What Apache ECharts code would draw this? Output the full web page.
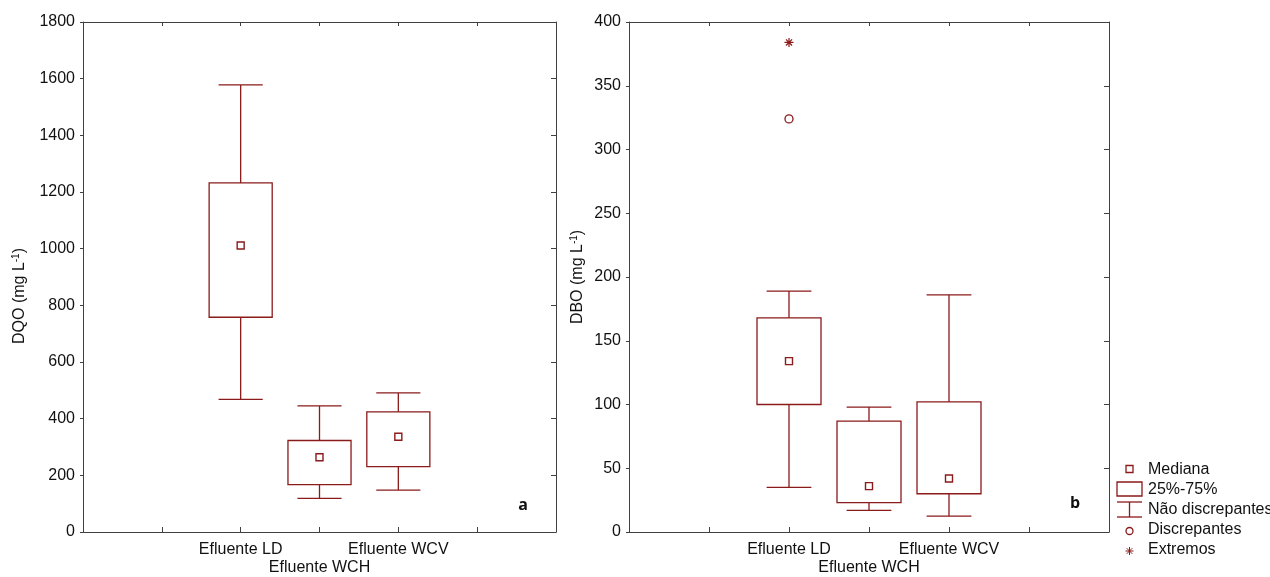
<!DOCTYPE html>
<html>
<head>
<meta charset="utf-8">
<script src="https://cdn.jsdelivr.net/npm/echarts@6/dist/echarts.min.js"></script>
<style>
  html, body { margin: 0; padding: 0; background: #fff; }
  #chart { width: 1270px; height: 577px; }
</style>
</head>
<body>
<div id="chart"></div>
<script>
// categories sit on slots 2,3,4 of a 0..6 axis
const categories = ["Efluente LD", "Efluente WCH", "Efluente WCV"];
const catPos = [2, 3, 4];

// [min, q1, median, q3, max]
const dqoStats = [
  [468, 758, 1011, 1232, 1578],
  [119, 167, 264, 323, 445],
  [148, 231, 336, 424, 491]
];
const dboStats = [
  [35, 100, 134, 168, 189],
  [17, 23, 36, 87, 98],
  [12.5, 30, 42, 102, 186]
];
const dboOutliers = [[2, 324]];
const dboExtremes = [[2, 384]];

const legendNames = ["Mediana", "25%-75%", "Não discrepantes", "Discrepantes", "Extremos"];

const RED = "#8b1a1a";
const AXIS = "#404040";
const FONT = "Liberation Sans, Arial, sans-serif";

function boxData(stats) {
  return stats.map((s, i) => [catPos[i]].concat(s));
}
function medianData(stats) {
  return stats.map((s, i) => [catPos[i], s[2]]);
}

function renderBox(params, api) {
  const x = api.value(0);
  const lo = api.coord([x, api.value(1)]);
  const q1 = api.coord([x, api.value(2)]);
  const q3 = api.coord([x, api.value(4)]);
  const hi = api.coord([x, api.value(5)]);
  const slot = api.size([1, 0])[0];
  const bw = slot * 0.8;
  const cw = slot * 0.56;
  const st = { stroke: RED, lineWidth: 1.3, fill: null };
  return {
    type: "group",
    children: [
      { type: "line", shape: { x1: hi[0], y1: hi[1], x2: q3[0], y2: q3[1] }, style: st },
      { type: "line", shape: { x1: lo[0], y1: lo[1], x2: q1[0], y2: q1[1] }, style: st },
      { type: "line", shape: { x1: hi[0] - cw / 2, y1: hi[1], x2: hi[0] + cw / 2, y2: hi[1] }, style: st },
      { type: "line", shape: { x1: lo[0] - cw / 2, y1: lo[1], x2: lo[0] + cw / 2, y2: lo[1] }, style: st },
      { type: "rect", shape: { x: q3[0] - bw / 2, y: q3[1], width: bw, height: q1[1] - q3[1] }, style: { stroke: RED, lineWidth: 1.3, fill: "none" } }
    ]
  };
}

const starPath = "path://M5,0L5,10M0,5L10,5M1.6,1.6L8.4,8.4M1.6,8.4L8.4,1.6";

function xAxes(gridIndex) {
  return [
    {
      type: "value", gridIndex: gridIndex, min: 0, max: 6, interval: 1, position: "bottom",
      axisLine: { onZero: false, lineStyle: { color: AXIS } },
      axisTick: { inside: true, length: 5, lineStyle: { color: AXIS } },
      splitLine: { show: false },
      axisLabel: {
        margin: 9, color: "#111", fontFamily: FONT, fontSize: 16, lineHeight: 18,
        formatter: function (v) {
          const i = catPos.indexOf(v);
          if (i < 0) return "";
          return (i === 1 ? "\n" : "") + categories[i];
        }
      }
    },
    {
      type: "value", gridIndex: gridIndex, min: 0, max: 6, interval: 1, position: "top",
      axisLine: { onZero: false, lineStyle: { color: AXIS } },
      axisTick: { inside: true, length: 4, lineStyle: { color: AXIS } },
      splitLine: { show: false },
      axisLabel: { show: false }
    }
  ];
}

function yAxes(gridIndex, max, interval, name, gap, pad) {
  return [
    {
      type: "value", gridIndex: gridIndex, min: 0, max: max, interval: interval, position: "left",
      name: name, nameLocation: "middle", nameGap: gap,
      nameTextStyle: {
        color: "#111", fontFamily: FONT, fontSize: 16, padding: pad,
        rich: {
          n: { fontFamily: FONT, fontSize: 16, color: "#111", lineHeight: 18 },
          s: { fontFamily: FONT, fontSize: 10, color: "#111", verticalAlign: "top", lineHeight: 18, padding: [0, 0, 8, 0] }
        }
      },
      axisLine: { onZero: false, lineStyle: { color: AXIS } },
      axisTick: { inside: false, length: 3, lineStyle: { color: AXIS } },
      splitLine: { show: false },
      axisLabel: {
        margin: 8, color: "#111", fontFamily: FONT, fontSize: 16,
        formatter: function (v) { return String(v); }
      }
    },
    {
      type: "value", gridIndex: gridIndex, min: 0, max: max, interval: interval, position: "right",
      axisLine: { onZero: false, lineStyle: { color: AXIS } },
      axisTick: { inside: true, length: 5, lineStyle: { color: AXIS } },
      splitLine: { show: false },
      axisLabel: { show: false }
    }
  ];
}

function legendGraphic() {
  const x0 = 1117, cx = 1129.5, tx = 1148, y0 = 470, step = 20;
  const st = { stroke: RED, lineWidth: 1.3, fill: "none" };
  const items = [];
  legendNames.forEach(function (name, i) {
    const cy = y0 + i * step;
    let icon;
    if (i === 0) {
      icon = [{ type: "rect", shape: { x: cx - 3.5, y: cy - 4.5, width: 7, height: 7 }, style: st }];
    } else if (i === 1) {
      icon = [{ type: "rect", shape: { x: x0, y: cy - 8, width: 25, height: 14 }, style: st }];
    } else if (i === 2) {
      icon = [
        { type: "line", shape: { x1: x0, y1: cy - 8, x2: x0 + 25, y2: cy - 8 }, style: st },
        { type: "line", shape: { x1: cx, y1: cy - 8, x2: cx, y2: cy + 7 }, style: st },
        { type: "line", shape: { x1: x0, y1: cy + 7, x2: x0 + 25, y2: cy + 7 }, style: st }
      ];
    } else if (i === 3) {
      icon = [{ type: "circle", shape: { cx: cx, cy: cy + 1, r: 3.5 }, style: st }];
    } else {
      const r = 4;
      icon = [
        { type: "line", shape: { x1: cx, y1: cy + 1 - r, x2: cx, y2: cy + 1 + r }, style: { stroke: RED, lineWidth: 1 } },
        { type: "line", shape: { x1: cx - r, y1: cy + 1, x2: cx + r, y2: cy + 1 }, style: { stroke: RED, lineWidth: 1 } },
        { type: "line", shape: { x1: cx - 2.8, y1: cy - 1.8, x2: cx + 2.8, y2: cy + 3.8 }, style: { stroke: RED, lineWidth: 1 } },
        { type: "line", shape: { x1: cx - 2.8, y1: cy + 3.8, x2: cx + 2.8, y2: cy - 1.8 }, style: { stroke: RED, lineWidth: 1 } }
      ];
    }
    icon.forEach(function (g) { items.push(g); });
    items.push({
      type: "text", x: tx, y: cy,
      style: { text: name, fill: "#111", font: "16px " + FONT, verticalAlign: "middle", align: "left" }
    });
  });
  return items;
}

const chart = echarts.init(document.getElementById("chart"));
const option = {
  animation: false,
  backgroundColor: "#fff",
  grid: [
    { left: 83, top: 22, width: 473, height: 511 },
    { left: 629, top: 22, width: 480, height: 511 }
  ],
  xAxis: xAxes(0).concat(xAxes(1)),
  yAxis: yAxes(0, 1800, 200, "{n|DQO (mg L}{s|-1}{n|)}", 54, [0, 38, 0, 0])
    .concat(yAxes(1, 400, 50, "{n|DBO (mg L}{s|-1}{n|)}", 42, 0)),
  series: [
    {
      name: "25%-75%", type: "custom", xAxisIndex: 0, yAxisIndex: 0,
      renderItem: renderBox, encode: { x: 0, y: [1, 2, 3, 4, 5] }, data: boxData(dqoStats)
    },
    {
      name: "Mediana", type: "scatter", xAxisIndex: 0, yAxisIndex: 0,
      symbol: "rect", symbolSize: 7,
      itemStyle: { color: "#fff", borderColor: RED, borderWidth: 1.4, opacity: 1 },
      data: medianData(dqoStats)
    },
    {
      name: "25%-75%", type: "custom", xAxisIndex: 2, yAxisIndex: 2,
      renderItem: renderBox, encode: { x: 0, y: [1, 2, 3, 4, 5] }, data: boxData(dboStats)
    },
    {
      name: "Mediana", type: "scatter", xAxisIndex: 2, yAxisIndex: 2,
      symbol: "rect", symbolSize: 7,
      itemStyle: { color: "#fff", borderColor: RED, borderWidth: 1.4, opacity: 1 },
      data: medianData(dboStats)
    },
    {
      name: "Discrepantes", type: "scatter", xAxisIndex: 2, yAxisIndex: 2,
      symbol: "circle", symbolSize: 8,
      itemStyle: { color: "#fff", borderColor: RED, borderWidth: 1.3, opacity: 1 },
      data: dboOutliers
    },
    {
      name: "Extremos", type: "scatter", xAxisIndex: 2, yAxisIndex: 2,
      symbol: starPath, symbolSize: 9,
      itemStyle: { color: "none", borderColor: RED, borderWidth: 1.2, opacity: 1 },
      data: dboExtremes
    }
  ],
  graphic: [
    { type: "text", x: 523, y: 505, style: { text: "a", fill: "#111", font: "bold 16px Open Sans, sans-serif", align: "center", verticalAlign: "middle" } },
    { type: "text", x: 1075, y: 503, style: { text: "b", fill: "#111", font: "bold 16px Open Sans, sans-serif", align: "center", verticalAlign: "middle" } }
  ].concat(legendGraphic())
};
chart.setOption(option);
</script>
</body>
</html>
